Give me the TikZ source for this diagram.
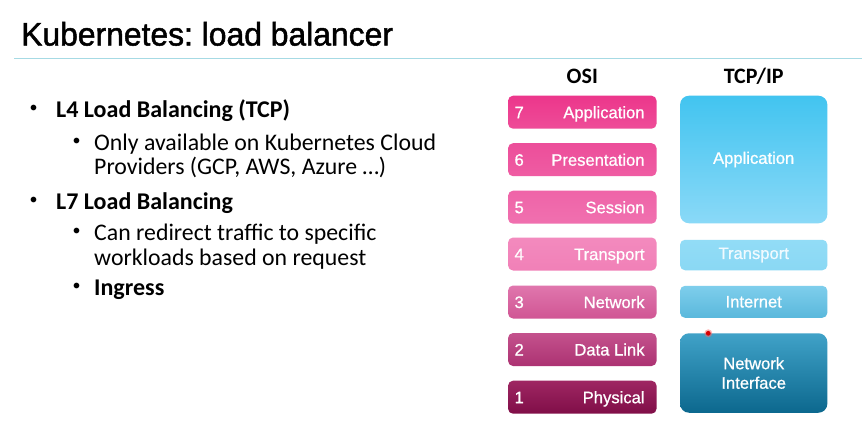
\documentclass[tikz,border=0pt]{standalone}
\usepackage{fontspec}
\setmainfont{Carlito}
\newfontfamily\titlefont[FakeStretch=0.98, FakeBold=1.5]{Liberation Sans}
\newfontfamily\boxfont[FakeBold=0.8]{Liberation Sans}
\frenchspacing
\begin{document}
\begin{tikzpicture}[x=1pt,y=-1pt,
  txt/.style={inner sep=0pt, anchor=base west},
  osibox/.style={rounded corners=5pt, minimum width=148.5pt, minimum height=33pt, inner sep=0pt, draw=none},
  tcpbox/.style={rounded corners=7pt, minimum width=147.3pt, inner sep=0pt, draw=none,
     text=white, font=\boxfont\fontsize{16.6}{19.5}\selectfont, align=center},
  num/.style={inner sep=0pt, anchor=base west, text=white, font=\boxfont\fontsize{16.6}{19.5}\selectfont},
  lbl/.style={inner sep=0pt, anchor=base east, text=white, font=\boxfont\fontsize{16.6}{19.5}\selectfont},
  head/.style={inner sep=0pt, anchor=base, font=\bfseries\fontsize{22}{26}\selectfont},
  dotmark/.style={inner sep=0pt, anchor=center, font=\fontsize{16}{18}\selectfont},
  main/.style={txt, font=\fontsize{23.8}{27}\selectfont},
  mainb/.style={txt, font=\bfseries\fontsize{24}{27}\selectfont},
]
\useasboundingbox (0,0) rectangle (862,429);
\fill[white] (0,0) rectangle (862,429);

% title and rule
\node[txt, font=\titlefont\fontsize{32.5}{36}\selectfont] (title) at (21,45.5) {Kubernetes: load balancer};
\coordinate (ruleL) at (14,58.5);
\coordinate (ruleR) at (862,58.5);
\draw[color={rgb,255:red,166;green,218;blue,228}, line width=1.6pt] (ruleL) -- (ruleR);

% bullet list
\node[dotmark] (b1) at (33.5,109) {•};
\node[mainb] (t1) at (56,117) {L4 Load Balancing (TCP)};
\node[dotmark] (b11) at (76.5,142) {•};
\node[main] (t11) at (94,150) {Only available on Kubernetes Cloud};
\node[main] (t12) at (94,174) {Providers (GCP, AWS, Azure …)};
\node[dotmark] (b2) at (33.5,201) {•};
\node[mainb] (t2) at (56,209) {L7 Load Balancing};
\node[dotmark] (b21) at (76.5,232) {•};
\node[main] (t21) at (94,240) {Can redirect traffic to specific};
\node[main] (t22) at (94,265) {workloads based on request};
\node[dotmark] (b22) at (76.5,287) {•};
\node[mainb] (t23) at (94,295) {Ingress};

% column headings
\node[head] (hosi) at (582.3,83) {OSI};
\node[head] (htcp) at (753.7,83) {TCP/IP};

% OSI layers
\node[osibox, top color={rgb,255:red,236;green,54;blue,139}, bottom color={rgb,255:red,238;green,76;blue,152}] (o7) at (582.3,112.2) {};
\node[osibox, top color={rgb,255:red,236;green,78;blue,154}, bottom color={rgb,255:red,239;green,92;blue,163}] (o6) at (582.3,159.7) {};
\node[osibox, top color={rgb,255:red,239;green,100;blue,168}, bottom color={rgb,255:red,240;green,112;blue,175}] (o5) at (582.3,207.2) {};
\node[osibox, top color={rgb,255:red,243;green,138;blue,190}, bottom color={rgb,255:red,241;green,128;blue,183}] (o4) at (582.3,254.0) {};
\node[osibox, top color={rgb,255:red,224;green,118;blue,173}, bottom color={rgb,255:red,208;green,86;blue,148}] (o3) at (582.3,302.0) {};
\node[osibox, top color={rgb,255:red,196;green,82;blue,141}, bottom color={rgb,255:red,172;green,50;blue,114}] (o2) at (582.3,349.5) {};
\node[osibox, top color={rgb,255:red,158;green,38;blue,98}, bottom color={rgb,255:red,128;green,14;blue,72}] (o1) at (582.3,397.2) {};

\foreach \n/\t in {7/Application,6/Presentation,5/Session,4/Transport,3/Network,2/Data Link,1/Physical}{
  \node[num] (n\n) at ([xshift=6.5pt,yshift=-6pt]o\n.west) {\n};
  \node[lbl] (l\n) at ([xshift=-12pt,yshift=-6pt]o\n.east) {\t};
}

% TCP/IP layers
\node[tcpbox, minimum height=127.6pt, rounded corners=9pt,
  top color={rgb,255:red,66;green,196;blue,240}, bottom color={rgb,255:red,138;green,217;blue,247}] (ta) at (753.7,159.5) {Application};
\node[tcpbox, minimum height=30.5pt, rounded corners=5pt, text={rgb,255:red,240;green,250;blue,255},
  top color={rgb,255:red,146;green,220;blue,246}, bottom color={rgb,255:red,138;green,216;blue,244}] (tt) at (753.7,255) {Transport};
\node[tcpbox, minimum height=32pt, rounded corners=5pt,
  top color={rgb,255:red,126;green,206;blue,236}, bottom color={rgb,255:red,90;green,184;blue,220}] (ti) at (753.7,301.8) {Internet};
\node[tcpbox, minimum height=79.5pt, rounded corners=9pt,
  top color={rgb,255:red,64;green,162;blue,200}, bottom color={rgb,255:red,12;green,104;blue,142}] (tn) at (753.7,373) {Network\\Interface};

% pointer dot
\coordinate (dot) at (708.3,333.3);
\fill[red!60!white, opacity=0.5] (dot) circle (4pt);
\fill[red!85!black] (dot) circle (2.4pt);
\end{tikzpicture}
\end{document}
